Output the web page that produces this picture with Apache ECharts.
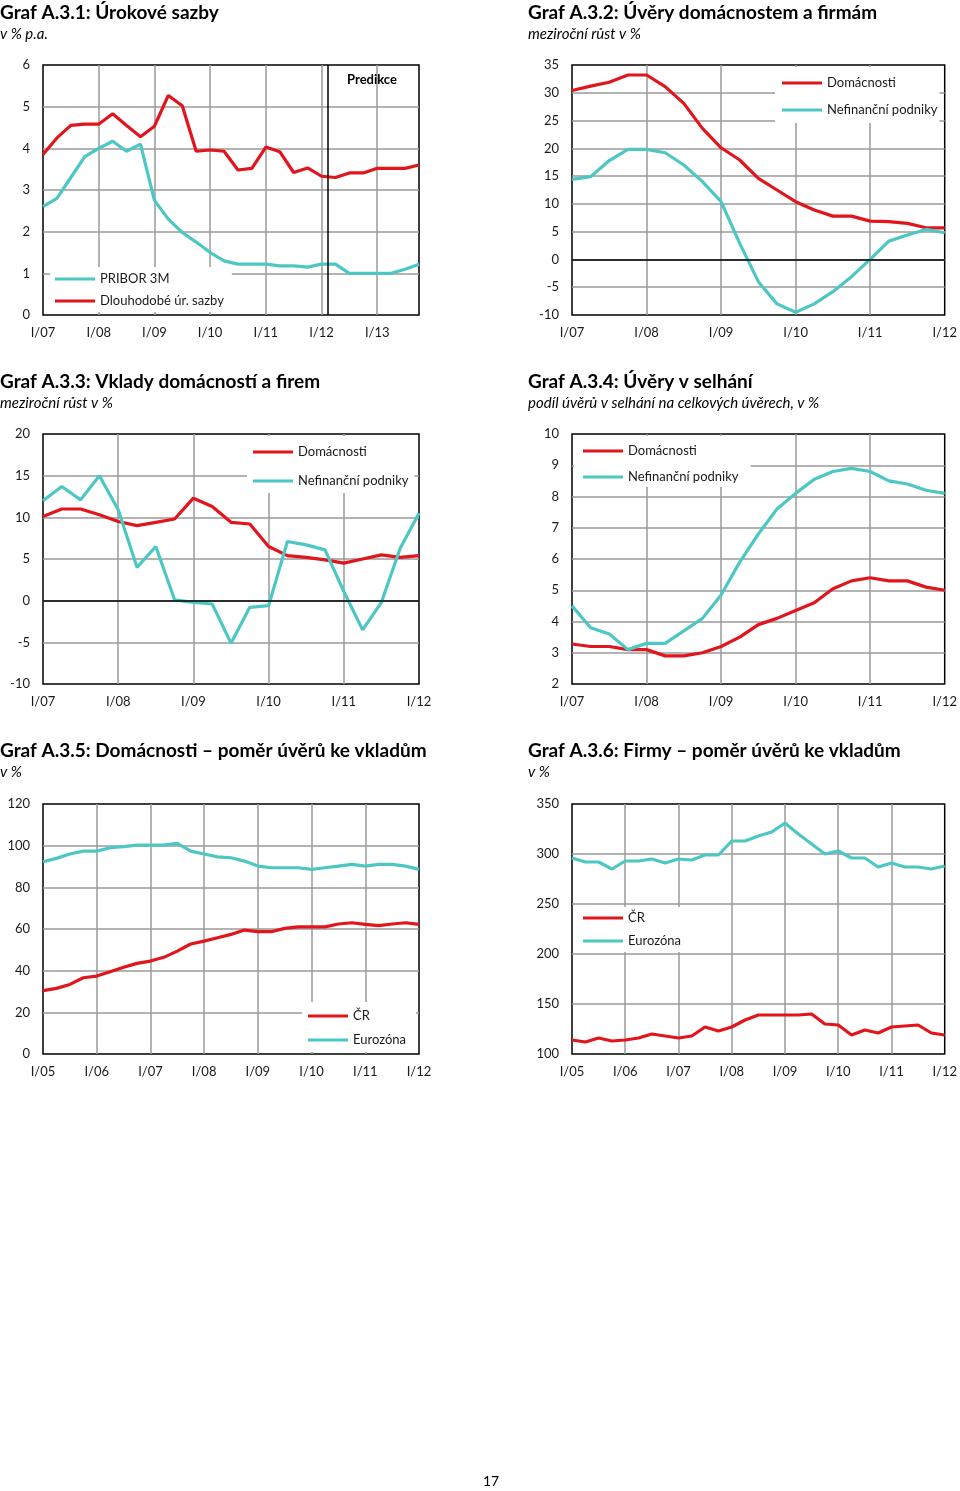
<!DOCTYPE html>
<html>
<head>
<meta charset="utf-8">
<script src="https://cdn.jsdelivr.net/npm/echarts@6/dist/echarts.min.js"></script>
<style>
  html, body { margin: 0; padding: 0; background: #fff; }
  #stranka { width: 960px; height: 1491px; }
</style>
</head>
<body>
<div id="stranka"></div>
<script>
// popisky os (roky)
const roky07_13 = ["I/07", "I/08", "I/09", "I/10", "I/11", "I/12", "I/13"];
const roky07_12 = ["I/07", "I/08", "I/09", "I/10", "I/11", "I/12"];
const roky05_12 = ["I/05", "I/06", "I/07", "I/08", "I/09", "I/10", "I/11", "I/12"];

// A.3.1 Úrokové sazby (čtvrtletně I/07 - IV/13)
const pribor3m = [2.6, 2.8, 3.3, 3.8, 4.0, 4.17, 3.93, 4.1, 2.75, 2.3, 1.98, 1.75, 1.5, 1.3,
  1.22, 1.22, 1.22, 1.18, 1.18, 1.15, 1.22, 1.22, 1.0, 1.0, 1.0, 1.0, 1.1, 1.22];
const dlouhodobe = [3.85, 4.25, 4.55, 4.58, 4.58, 4.83, 4.55, 4.28, 4.53, 5.27, 5.02, 3.93, 3.96, 3.93,
  3.48, 3.52, 4.03, 3.92, 3.42, 3.53, 3.33, 3.30, 3.41, 3.41, 3.52, 3.52, 3.52, 3.6];
const predikceOd = 20.45;

// A.3.2 Úvěry (I/07 - I/12)
const uveryDomacnosti = [30.4, 31.2, 31.9, 33.2, 33.2, 31.1, 28.1, 23.6, 20.1, 17.9, 14.6,
  12.5, 10.4, 8.9, 7.8, 7.8, 6.9, 6.8, 6.5, 5.7, 5.7];
const uveryPodniky = [14.4, 14.9, 17.8, 19.8, 19.8, 19.2, 17.0, 14.0, 10.4, 2.9, -4.0,
  -8.0, -9.5, -8.0, -5.8, -3.1, 0, 3.3, 4.4, 5.4, 4.8];

// A.3.3 Vklady (I/07 - I/12)
const vkladyDomacnosti = [10.1, 11.0, 11.0, 10.3, 9.5, 9.0, 9.4, 9.8, 12.3, 11.3, 9.4,
  9.2, 6.5, 5.4, 5.2, 4.9, 4.5, 5.0, 5.5, 5.2, 5.4];
const vkladyPodniky = [12.0, 13.7, 12.1, 15.0, 10.9, 4.0, 6.5, 0.1, -0.2, -0.4, -5.1,
  -0.8, -0.6, 7.1, 6.7, 6.1, 1.1, -3.5, -0.2, 6.3, 10.5];

// A.3.4 Úvěry v selhání (I/07 - I/12)
const selhaniDomacnosti = [3.28, 3.2, 3.2, 3.1, 3.1, 2.9, 2.9, 3.0, 3.2, 3.5, 3.9,
  4.1, 4.35, 4.6, 5.05, 5.3, 5.4, 5.3, 5.3, 5.1, 5.0];
const selhaniPodniky = [4.5, 3.8, 3.6, 3.1, 3.3, 3.3, 3.7, 4.1, 4.85, 5.9, 6.8,
  7.6, 8.1, 8.55, 8.8, 8.9, 8.8, 8.5, 8.4, 8.2, 8.1];

// A.3.5 Domácnosti – poměr úvěrů ke vkladům (I/05 - I/12)
const domacnostiCR = [30.4, 31.5, 33.4, 36.6, 37.4, 39.5, 41.6, 43.5, 44.6, 46.4, 49.4,
  52.8, 54.2, 55.8, 57.4, 59.5, 58.7, 58.7, 60.3, 61, 61, 61, 62.4, 63, 62.2, 61.6, 62.4, 63, 62.2];
const domacnostiEZ = [92.3, 93.9, 96, 97.4, 97.4, 99, 99.5, 100.3, 100.3, 100.3, 101.1,
  97.4, 96, 94.6, 94.2, 92.6, 90.2, 89.4, 89.4, 89.4, 88.6, 89.4, 90.2, 91, 90.2, 91, 91, 90.2, 88.6];

// A.3.6 Firmy – poměr úvěrů ke vkladům (I/05 - I/12)
const firmyCR = [114, 112, 116, 113, 114, 116, 120, 118, 116, 118, 127, 123, 127, 134, 139,
  139, 139, 139, 140, 130, 129, 119, 124, 121, 127, 128, 129, 121, 119];
const firmyEZ = [296, 292, 292, 285, 293, 293, 295, 291, 295, 294, 299, 299, 313, 313, 318,
  322, 331, 320, 310, 300, 303, 296, 296, 287, 291, 287, 287, 285, 288];

const CERVENA = "#e1151b";
const TYRKYS = "#4cc7c4";
const FONT = "Lato";

const chart = echarts.init(document.getElementById("stranka"));

const panely = [
  { left: 43, top: 65, nazev: "Graf A.3.1: ", tucne: "Úrokové sazby", pod: "v % p.a.", tx: 0, ty: 3,
    osaY: [0, 6, 1], roky: roky07_13,
    serie: [["PRIBOR 3M", pribor3m, TYRKYS], ["Dlouhodobé úr. sazby", dlouhodobe, CERVENA]],
    legenda: { left: 50, top: 267, padding: [4, 8, 3, 5], gap: 6 } },
  { left: 572, top: 65, nazev: "Graf A.3.2: ", tucne: "Úvěry domácnostem a firmám", pod: "meziroční růst v %", tx: 528, ty: 3,
    osaY: [-10, 35, 5], roky: roky07_12, nula: true,
    serie: [["Domácnosti", uveryDomacnosti, CERVENA], ["Nefinanční podniky", uveryPodniky, TYRKYS]],
    legenda: { left: 775, top: 67, padding: [8, 2, 5, 7], gap: 11 } },
  { left: 43, top: 434, nazev: "Graf A.3.3: ", tucne: "Vklady domácností a firem", pod: "meziroční růst v %", tx: 0, ty: 372,
    osaY: [-10, 20, 5], roky: roky07_12, nula: true,
    serie: [["Domácnosti", vkladyDomacnosti, CERVENA], ["Nefinanční podniky", vkladyPodniky, TYRKYS]],
    legenda: { left: 247, top: 436, padding: [8, 6, 4, 6], gap: 13 } },
  { left: 572, top: 434, nazev: "Graf A.3.4: ", tucne: "Úvěry v selhání", pod: "podíl úvěrů v selhání na celkových úvěrech, v %", tx: 528, ty: 372,
    osaY: [2, 10, 1], roky: roky07_12,
    serie: [["Domácnosti", selhaniDomacnosti, CERVENA], ["Nefinanční podniky", selhaniPodniky, TYRKYS]],
    legenda: { left: 574, top: 436, padding: [7, 12, 2, 9], gap: 10 } },
  { left: 43, top: 804, nazev: "Graf A.3.5: ", tucne: "Domácnosti – poměr úvěrů ke vkladům", pod: "v %", tx: 0, ty: 741,
    osaY: [0, 120, 20], roky: roky05_12,
    serie: [["ČR", domacnostiCR, CERVENA], ["Eurozóna", domacnostiEZ, TYRKYS]],
    legenda: { left: 302, top: 1002, padding: [6, 10, 4, 6], gap: 8 } },
  { left: 572, top: 804, nazev: "Graf A.3.6: ", tucne: "Firmy – poměr úvěrů ke vkladům", pod: "v %", tx: 528, ty: 741,
    osaY: [100, 350, 50], roky: roky05_12,
    serie: [["ČR", firmyCR, CERVENA], ["Eurozóna", firmyEZ, TYRKYS]],
    legenda: { left: 577, top: 907, padding: [3, 8, 3, 6], gap: 7 } }
];

const grid = [], xAxis = [], yAxis = [], series = [], title = [], legend = [];

panely.forEach((p, k) => {
  const n = p.serie[0][1].length;
  grid.push({ left: p.left, top: p.top, width: 376, height: 250, show: true,
    borderColor: "#000", borderWidth: 1.5, backgroundColor: "#fff" });

  const seda = { show: true, showMinLine: false, showMaxLine: false, lineStyle: { color: "#9a9a9a", width: 1.5 } };
  xAxis.push({ type: "value", gridIndex: k, min: 0, max: n - 1, interval: 4,
    axisLine: { show: false }, axisTick: { show: false }, splitLine: seda,
    axisLabel: { margin: 11, color: "#1a1a1a", fontFamily: FONT, fontSize: 13,
      formatter: v => (v % 4 === 0 ? p.roky[v / 4] : "") } });
  yAxis.push({ type: "value", gridIndex: k, min: p.osaY[0], max: p.osaY[1], interval: p.osaY[2],
    axisLine: { show: false }, axisTick: { show: false }, splitLine: seda,
    axisLabel: { margin: 13, color: "#1a1a1a", fontFamily: FONT, fontSize: 13 } });

  p.serie.forEach(([jmeno, hodnoty, barva], j) => {
    const s = { type: "line", name: jmeno, xAxisIndex: k, yAxisIndex: k,
      data: hodnoty.map((v, i) => [i, v]), symbol: "none", color: barva,
      lineStyle: { color: barva, width: 3.2 }, animation: false, z: 3 + j };
    if (j === 0 && (p.nula || k === 0)) {
      s.markLine = { silent: true, symbol: "none", label: { show: false },
        lineStyle: { color: "#000", width: 1.5, type: "solid" },
        data: k === 0 ? [{ xAxis: predikceOd }] : [{ yAxis: 0 }] };
    }
    series.push(s);
  });

  title.push({ left: p.tx, top: p.ty, padding: 0, itemGap: 5,
    text: "{n|" + p.nazev + "}{b|" + p.tucne + "}",
    textStyle: { rich: {
      n: { fontFamily: FONT, fontSize: 19, color: "#000" },
      b: { fontFamily: FONT, fontSize: 19, fontWeight: "bold", color: "#000" } } },
    subtext: p.pod,
    subtextStyle: { fontFamily: FONT, fontSize: 15, fontStyle: "italic", color: "#000" } });

  legend.push({ orient: "vertical", left: p.legenda.left, top: p.legenda.top,
    padding: p.legenda.padding, itemGap: p.legenda.gap, backgroundColor: "#fff",
    icon: "rect", itemWidth: 40, itemHeight: 3,
    data: p.serie.map(s => s[0]),
    textStyle: { fontFamily: FONT, fontSize: 13, color: "#1a1a1a", lineHeight: 16 } });
});

chart.setOption({
  animation: false,
  title, grid, xAxis, yAxis, series, legend,
  graphic: [
    { type: "text", x: 372, y: 80, z: 10,
      style: { text: "Predikce", font: "bold 13px " + FONT, fill: "#000", align: "center", verticalAlign: "middle" } },
    { type: "text", x: 491, y: 1481,
      style: { text: "17", font: "14px " + FONT, fill: "#000", align: "center", verticalAlign: "middle" } }
  ]
});
</script>
</body>
</html>
